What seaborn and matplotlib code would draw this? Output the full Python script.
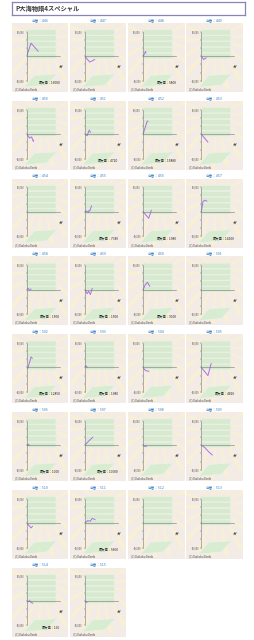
import matplotlib
matplotlib.use("Agg")
import matplotlib.pyplot as plt
import matplotlib.patches as mpatches
import numpy as np
import pandas as pd
import seaborn as sns

sns.set_style("white")
plt.rcParams['font.family'] = ['Noto Sans CJK JP', 'DejaVu Sans']

# ---------------- data ----------------
title = "P大海物語4スペシャル"
machines = [446, 447, 448, 449, 450, 451, 452, 453, 454, 455, 456, 457,
            458, 459, 460, 501, 502, 503, 504, 505, 506, 507, 508, 509,
            510, 511, 512, 513, 514, 515]
games = [
    [0, 1170, 3150],
    [0, 500, 1350, 2700],
    [0, 400, 620, 800],
    [0, 620, 1350],
    [0, 800, 1350, 1800, 1900],
    [0, 620, 1170, 1540],
    [0, 1000, 1170, 1350],
    [0, 600, 1200, 1800],
    [],
    [0, 450, 900, 1100, 1350, 1800],
    [0, 1540, 2250],
    [0, 450, 900, 1540],
    [0, 400, 800, 1200],
    [0, 600, 1000, 1500, 2000],
    [0, 600, 1200, 1800],
    [],
    [0, 300, 900, 1200, 1540],
    [0, 300, 600],
    [0, 450, 900, 1620],
    [0, 1800, 2700],
    [0, 400, 800],
    [0, 800, 1500, 2200],
    [0, 500, 1000],
    [0, 1000, 2000, 3000],
    [0, 600, 1200, 1600],
    [0, 800, 1400, 2000, 2800],
    [],
    [],
    [0, 400, 800, 1200, 1700],
    [0, 300, 600],
]
diffs = [
    [0, 16000, 6000],
    [0, -3000, -7200, -4000],
    [0, 3000, 5800, 4000],
    [0, -4000, -2000],
    [0, -5000, -3500, -9000, -7500],
    [0, -2000, 4700, 2000],
    [0, 14000, 15900, 15500],
    [0, -3500, -6500, -10000],
    [],
    [0, 1000, -1000, 1500, 1000, 7400],
    [0, -8000, 2000],
    [0, 12400, 14100, 13000],
    [0, 1500, -500, 800],
    [0, -5000, -2000, -6000, 1500],
    [0, 6000, 9000, 4000],
    [],
    [0, -1000, 8000, 12850, 11000],
    [0, 1980, 300],
    [0, -3000, -4200, -4800],
    [0, -10000, 4810],
    [0, 1000, -500],
    [0, 4000, 7000, 10000],
    [0, -1500, -1000],
    [0, -3000, -8000, -12000],
    [0, -3000, -6000, -4000],
    [0, 3000, 2000, 5660, 4000],
    [],
    [],
    [0, -1000, 196, -2000, -3000],
    [0, -1500, -2000],
]
max_labels = [16000, None, 5800, None, None, 4720, 15880, None, None, 7380,
              1980, 14100, 1500, 1500, 9000, None, 12850, 1980, None, 4810,
              1000, 10000, None, None, None, 5660, None, None, 196, None]

# ---------------- layout ----------------
W, H = 254, 640
fig = plt.figure(figsize=(W / 100, H / 100), dpi=100)
fig.patch.set_facecolor("white")


def ax_px(x, y, w, h, **kw):
    return fig.add_axes([x / W, 1 - (y + h) / H, w / W, h / H], **kw)


# title box
tax = ax_px(12, 2, 233, 13)
tax.set_xticks([]); tax.set_yticks([])
tax.set_facecolor("white")
for s in tax.spines.values():
    s.set_color("#8a84b6"); s.set_linewidth(0.9)
tax.text(0.015, 0.5, title, transform=tax.transAxes, ha="left", va="center",
         fontsize=4.5, color="#3a3a3a", fontweight="bold")

PANEL_W, PANEL_H = 56.5, 69
LINE_COLOR = "#b06ee6"

for i, m in enumerate(machines):
    r, c = divmod(i, 4)
    left = 11.7 + c * 58.2
    label_y = 20 + r * 77.8
    top = label_y + 3

    fig.text((left + PANEL_W / 2) / W, 1 - label_y / H, f"台番：{m}",
             ha="center", va="center", fontsize=2.6, color="#3a80c6")

    # background panel
    bg = ax_px(left, top, PANEL_W, PANEL_H)
    bg.set_xlim(0, 1); bg.set_ylim(0, 1)
    bg.set_facecolor("#f3ebe5")
    bg.set_xticks([]); bg.set_yticks([])
    for s in bg.spines.values():
        s.set_visible(False)
    # sunburst rays (subtle)
    cx, cy = 0.55, 0.78
    for k in range(18):
        a0 = k * 360 / 18
        bg.add_patch(mpatches.Wedge((cx, cy), 0.75, a0, a0 + 7,
                                    color="#f8efd9", lw=0, zorder=1))
    # green stacked boxes
    for k in range(5):
        yb = 0.9 - k * 0.085
        bg.add_patch(mpatches.FancyBboxPatch(
            (0.26, yb - 0.07), 0.52, 0.066,
            boxstyle="round,pad=0.005,rounding_size=0.02",
            fc="#d6ead0", ec="#e9f4e5", lw=0.4, alpha=0.95, zorder=2))
    bg.add_patch(mpatches.Polygon(
        [[0.22, 0.07], [0.62, 0.1], [0.8, 0.26], [0.4, 0.24]],
        closed=True, fc="#d8ecd2", ec="#eaf5e6", lw=0.4, zorder=2))
    bg.text(0.05, 0.04, "(C) Daikoku Denki", transform=bg.transAxes,
            fontsize=1.9, color="#444444", ha="left", va="center", zorder=5)
    if max_labels[i] is not None:
        bg.text(0.86, 0.135, f"最大値：{max_labels[i]}", transform=bg.transAxes,
                fontsize=2.3, color="#222222", ha="right", va="center",
                zorder=5)
    bg.text(0.855, 0.37, "G数", transform=bg.transAxes, rotation=-90,
            fontsize=1.9, color="#333333", ha="center", va="center", zorder=5)

    # plot axes
    ax = ax_px(left + 15, top + 8.7, 33, 49)
    ax.patch.set_alpha(0)
    ax.set_xlim(0, 9000)
    ax.set_ylim(-30000, 30000)
    if len(games[i]):
        df = pd.DataFrame({"g": games[i], "d": diffs[i]})
        sns.lineplot(data=df, x="g", y="d", ax=ax, color=LINE_COLOR,
                     linewidth=0.7, sort=False, estimator=None)
    ax.set_xlabel(""); ax.set_ylabel("")
    ax.spines["top"].set_visible(False)
    ax.spines["right"].set_visible(False)
    ax.spines["bottom"].set_position(("data", 0))
    for s in ("left", "bottom"):
        ax.spines[s].set_color("#777777")
        ax.spines[s].set_linewidth(0.4)
    ax.set_xticks([])
    yt = np.arange(-30000, 30001, 10000)
    ax.set_yticks(yt)
    ax.set_yticklabels(["-30,000", "", "", "", "", "", "30,000"])
    ax.tick_params(axis="y", length=1, width=0.3, pad=0.5, labelsize=1.8,
                   colors="#555555", left=True)

fig.savefig("out.png", dpi=100, facecolor="white")
